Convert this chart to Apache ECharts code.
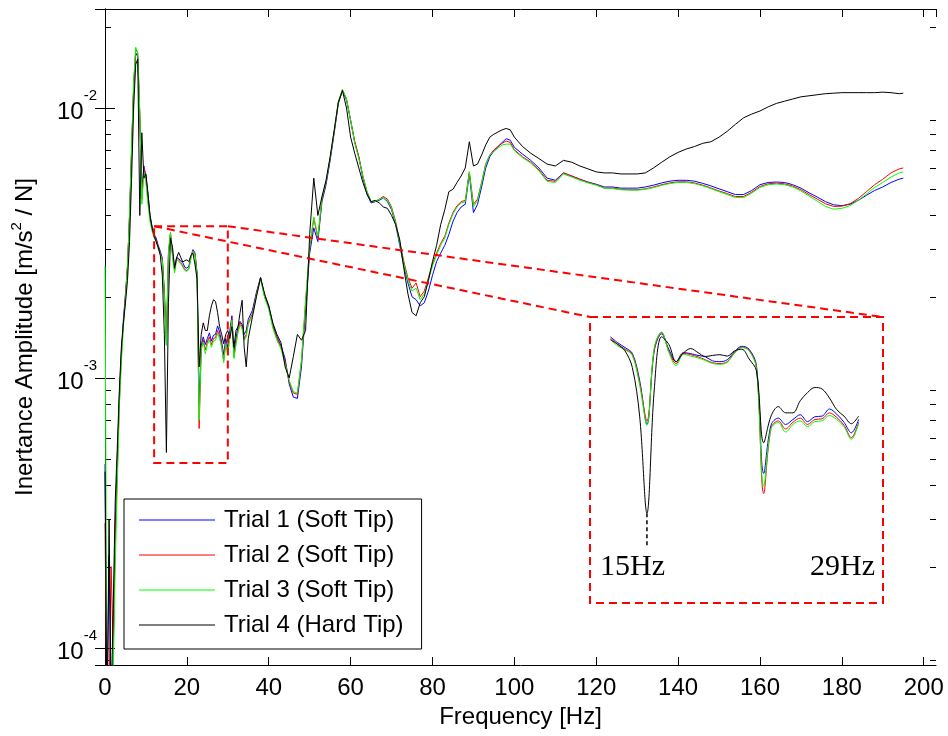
<!DOCTYPE html>
<html>
<head>
<meta charset="utf-8">
<script src="https://cdn.jsdelivr.net/npm/echarts@6/dist/echarts.min.js"></script>
<style>
html,body{margin:0;padding:0;background:#fff;}
#main{width:948px;height:736px;}
</style>
</head>
<body>
<div id="main"></div>
<script>
// ---------------- DATA (values in units of 1e-3 m/s^2/N) ----------------
const freq = [0,0.5,1,1.5,2,2.5,3,3.5,4,4.5,5,5.5,6,6.5,7,7.5,8,8.5,9,9.5,10,10.5,11,11.5,12,12.5,13,13.5,14,14.5,15,15.5,16,16.5,17,17.5,18,18.5,19,19.5,20,20.5,21,21.5,22,22.5,23,23.5,24,24.5,25,25.5,26,26.5,27,27.5,28,28.5,29,29.5,30,30.5,31,31.5,32,32.5,33,33.5,34,34.5,35,
36,37,38,39,40,41,42,43,44,45,46,47,48,49,50,51,52,53,54,55,56,57,58,59,60,61,62,63,64,65,66,67,68,69,70,71,72,73,74,75,76,77,78,79,80,81,82,83,84,85,86,87,88,89,90,91,92,93,94,95,96,97,98,99,100,
102,104,106,108,110,112,114,116,118,120,122,124,126,128,130,132,134,136,138,140,142,144,146,148,150,152,154,156,158,160,162,164,166,168,170,172,174,176,178,180,182,184,186,188,190,192,194,195];

const trial1 = [0.48,0.06,0.22,0.06,0.09,0.28,0.5,0.85,1.25,1.65,2.05,2.6,4.0,7.0,12.0,16.0,15.5,9.3,5.0,6.1,5.6,4.8,4.0,3.65,3.4,3.3,3.1,2.95,2.78,2.1,1.33,2.85,3.4,2.9,2.55,2.8,2.77,2.72,2.68,2.57,2.55,2.6,2.83,2.99,2.9,2.45,0.8,1.32,1.42,1.33,1.4,1.47,1.37,1.44,1.45,1.56,1.48,1.36,1.22,1.4,1.3,1.5,1.7,1.25,1.4,1.55,1.62,1.58,1.45,1.5,1.65,
1.78,2.08,2.36,2.02,1.85,1.58,1.42,1.32,1.18,0.95,0.85,0.84,1.1,1.8,2.9,3.6,3.2,4.5,5.2,6.4,8.1,10.4,11.6,10.7,9.0,7.5,6.6,5.5,4.8,4.45,4.5,4.55,4.65,4.5,4.2,3.7,3.1,2.6,2.25,2.0,1.95,1.85,1.9,2.1,2.4,2.7,2.9,3.1,3.4,3.8,4.1,4.3,4.4,5.7,4.1,4.4,5.1,6.0,6.6,6.95,7.2,7.45,7.7,7.6,7.15,
6.75,6.4,6.0,5.5,5.4,5.75,5.6,5.45,5.32,5.22,5.1,5.1,5.05,5.05,5.05,5.1,5.18,5.28,5.36,5.4,5.4,5.36,5.26,5.15,5.02,4.9,4.78,4.78,4.95,5.2,5.3,5.32,5.3,5.2,5.05,4.85,4.68,4.5,4.38,4.35,4.4,4.55,4.75,4.95,5.1,5.3,5.45,5.5];

const trial2 = [0.29,0.05,0.07,0.2,0.1,0.25,0.45,0.8,1.2,1.6,2.0,2.6,4.0,7.0,12.0,16.5,16.0,9.5,4.6,6.0,5.5,4.6,3.9,3.6,3.35,3.25,3.05,2.9,2.75,2.05,1.38,2.9,3.45,2.85,2.5,2.78,2.74,2.68,2.6,2.52,2.5,2.55,2.8,2.96,2.87,2.4,0.65,1.28,1.38,1.27,1.36,1.42,1.33,1.4,1.41,1.5,1.43,1.32,1.16,1.36,1.25,1.45,1.66,1.2,1.35,1.5,1.6,1.55,1.4,1.45,1.6,
1.73,2.05,2.35,2.0,1.83,1.55,1.4,1.3,1.15,0.97,0.88,0.87,1.15,1.9,3.0,3.9,3.3,4.6,5.3,6.5,8.2,10.5,11.7,10.8,9.0,7.5,6.6,5.6,4.9,4.5,4.5,4.6,4.7,4.6,4.3,3.8,3.2,2.7,2.35,2.15,2.25,2.0,2.1,2.35,2.65,2.9,3.15,3.35,3.75,4.1,4.35,4.5,4.55,5.8,4.4,4.6,5.3,6.2,6.7,7.0,7.2,7.4,7.55,7.45,7.0,
6.6,6.3,5.9,5.4,5.35,5.75,5.6,5.45,5.3,5.2,5.05,5.05,5.0,4.98,4.98,5.02,5.1,5.2,5.28,5.33,5.33,5.28,5.18,5.06,4.93,4.82,4.7,4.7,4.88,5.12,5.24,5.27,5.24,5.14,4.98,4.78,4.6,4.42,4.32,4.33,4.42,4.62,4.9,5.2,5.45,5.75,5.95,6.0];

const trial3 = [2.6,0.05,0.06,0.05,0.08,0.2,0.4,0.78,1.15,1.55,1.95,2.6,4.1,7.2,12.5,16.8,16.0,9.8,4.4,5.8,5.3,4.4,3.8,3.5,3.3,3.2,3.0,2.88,2.72,2.0,1.32,2.95,3.47,2.8,2.45,2.75,2.7,2.65,2.58,2.5,2.48,2.53,2.78,2.95,2.85,2.38,0.7,1.27,1.36,1.23,1.33,1.38,1.3,1.37,1.38,1.46,1.4,1.3,1.14,1.34,1.22,1.42,1.64,1.18,1.33,1.48,1.57,1.52,1.38,1.42,1.58,
1.7,2.02,2.33,1.98,1.8,1.53,1.38,1.28,1.13,0.98,0.89,0.88,1.17,1.95,3.05,3.95,3.35,4.65,5.35,6.55,8.25,10.6,11.7,10.8,9.0,7.4,6.5,5.6,4.9,4.5,4.5,4.6,4.65,4.55,4.25,3.75,3.15,2.65,2.3,2.1,2.15,1.95,2.05,2.3,2.6,2.85,3.1,3.3,3.7,4.05,4.3,4.45,4.5,5.8,4.3,4.55,5.3,6.2,6.7,6.9,7.1,7.3,7.35,7.35,6.95,
6.55,6.25,5.85,5.35,5.3,5.7,5.55,5.4,5.28,5.18,5.05,5.03,4.98,4.97,4.96,5.0,5.07,5.17,5.25,5.3,5.3,5.25,5.15,5.03,4.9,4.78,4.66,4.66,4.84,5.08,5.2,5.23,5.2,5.1,4.93,4.72,4.52,4.32,4.22,4.25,4.35,4.55,4.8,5.08,5.3,5.55,5.75,5.8];

const trial4 = [0.45,0.05,0.3,0.06,0.14,0.35,0.55,0.9,1.3,1.6,1.9,2.3,3.2,5.5,10.0,14.5,15.2,4.0,8.1,5.5,5.7,4.8,4.0,3.6,3.35,3.2,3.05,2.85,2.4,1.45,0.53,1.9,3.3,3.05,2.55,2.79,2.92,2.8,2.69,2.72,2.74,2.7,2.85,2.9,2.62,2.32,1.1,1.45,1.6,1.5,1.5,1.7,1.85,1.95,1.92,1.75,1.55,1.45,1.34,1.45,1.5,1.4,1.55,1.3,1.5,1.55,1.75,1.94,1.3,1.1,1.4,
1.68,2.0,2.35,2.05,1.85,1.6,1.45,1.35,1.1,1.0,1.2,1.45,1.38,1.5,3.4,5.5,4.0,4.7,5.4,6.6,8.3,10.5,11.6,10.0,7.8,6.8,6.0,5.3,4.8,4.5,4.55,4.45,4.3,4.25,4.0,3.7,3.25,2.55,2.05,1.75,1.7,1.9,2.0,2.3,2.7,3.1,3.7,4.2,4.9,5.0,5.3,5.6,6.0,7.5,6.1,6.2,6.7,7.3,7.8,8.0,8.15,8.3,8.4,8.3,7.8,
7.2,6.8,6.5,6.2,6.1,6.4,6.3,6.1,5.95,5.8,5.75,5.75,5.7,5.7,5.7,5.75,6.0,6.3,6.6,6.85,7.05,7.2,7.4,7.5,7.8,8.2,8.7,9.2,9.5,9.75,10.1,10.4,10.6,10.8,11.0,11.1,11.2,11.3,11.35,11.4,11.4,11.4,11.4,11.4,11.45,11.4,11.3,11.35];

const seriesNames = ['Trial 1 (Soft Tip)','Trial 2 (Soft Tip)','Trial 3 (Soft Tip)','Trial 4 (Hard Tip)'];
const seriesColors = ['#0000ff','#ff0000','#00ff00','#000000'];
const trials = [trial1, trial2, trial3, trial4];

const xTicks = [0,20,40,60,80,100,120,140,160,180,200];
const yDecades = [1e-4,1e-3,1e-2];
const minorTicks = [9e-5,2e-4,3e-4,4e-4,5e-4,6e-4,7e-4,8e-4,9e-4,2e-3,3e-3,4e-3,5e-3,6e-3,7e-3,8e-3,9e-3,2e-2];

// zoomed region (Hz and m/s^2/N) and inset range
const zoomBox = {f0: 12, f1: 30, yTop: 3.65e-3, yBottom: 4.84e-4};
const insetRange = {f0: 12.5, f1: 29.5};
const insetLabels = ['15Hz','29Hz'];
const markFreq = 15;

// ---------------- CHART ----------------
const FONT = '"Liberation Sans", Arial, sans-serif';
const FS = 24;
const xMin = 0, xMax = 203, yMin = 8.65e-5, yMax = 0.02327;
const inX0 = 11.1, inX1 = 31.17, inY0 = 2.09e-4, inY1 = 4.05e-3;

function toPairs(arr) { return freq.map((f, i) => [f, arr[i] * 1e-3]); }
function toInset(arr) { return freq.map((f, i) => [f, arr[i] * 1e-3]).filter(p => p[0] >= insetRange.f0 && p[0] <= insetRange.f1); }

const series = [];
trials.forEach((t, k) => {
  series.push({
    name: seriesNames[k], type: 'line', xAxisIndex: 0, yAxisIndex: 0,
    data: toPairs(t), symbol: 'none', showSymbol: false,
    lineStyle: {color: seriesColors[k], width: 1}, itemStyle: {color: seriesColors[k]},
    clip: true, z: 2 + k, silent: true
  });
});
trials.forEach((t, k) => {
  series.push({
    name: 'inset' + k, type: 'line', xAxisIndex: 2, yAxisIndex: 2,
    data: toInset(t), symbol: 'none', showSymbol: false, smooth: 0.35,
    lineStyle: {color: seriesColors[k], width: 1}, itemStyle: {color: seriesColors[k]},
    z: 2 + k, silent: true
  });
});
series.push({
  type: 'custom', name: 'minor', xAxisIndex: 0, yAxisIndex: 0, silent: true, clip: false,
  data: minorTicks.map(v => [xMin, v]),
  renderItem: function (params, api) {
    const cs = params.coordSys;
    const y = Math.round(api.coord([xMin, api.value(1)])[1]) + 0.5;
    return {type: 'group', children: [
      {type: 'line', shape: {x1: cs.x, y1: y, x2: cs.x + 6, y2: y}, style: {stroke: '#000', lineWidth: 1}},
      {type: 'line', shape: {x1: cs.x + cs.width, y1: y, x2: cs.x + cs.width - 6, y2: y}, style: {stroke: '#000', lineWidth: 1}}
    ]};
  }
});

const axisLineStyle = {show: true, lineStyle: {color: '#000', width: 1}};
const option = {
  animation: false,
  backgroundColor: '#fff',
  grid: [
    {left: 105, right: 12, top: 9, bottom: 71},
    {left: 590, top: 317, width: 293, height: 286}
  ],
  xAxis: [
    {type: 'value', gridIndex: 0, min: xMin, max: xMax, interval: 20, position: 'bottom',
     name: 'Frequency [Hz]', nameLocation: 'middle', nameGap: 40,
     nameTextStyle: {fontFamily: FONT, fontSize: FS, color: '#000'},
     axisLine: axisLineStyle, axisTick: {inside: true, length: 8, lineStyle: {color: '#000'}},
     axisLabel: {fontFamily: FONT, fontSize: FS, color: '#000', margin: 11, showMaxLabel: false,
       formatter: v => (xTicks.indexOf(v) >= 0 ? String(v) : '')},
     splitLine: {show: false}},
    {type: 'value', gridIndex: 0, min: xMin, max: xMax, interval: 20, position: 'top',
     axisLine: axisLineStyle, axisTick: {inside: true, length: 8, lineStyle: {color: '#000'}},
     axisLabel: {show: false}, splitLine: {show: false}},
    {type: 'value', gridIndex: 1, min: inX0, max: inX1, show: false}
  ],
  yAxis: [
    {type: 'log', logBase: 10, gridIndex: 0, min: yMin, max: yMax, position: 'left',
     name: 'Inertance Amplitude [m/s{s|2} / N]', nameLocation: 'middle', nameGap: 64, nameRotate: 90,
     nameTextStyle: {fontFamily: FONT, fontSize: FS, color: '#000', lineHeight: 32,
       rich: {s: {fontFamily: FONT, fontSize: 15, lineHeight: 15, verticalAlign: 'top', color: '#000'}}},
     axisLine: axisLineStyle, axisTick: {inside: true, length: 10, lineStyle: {color: '#000'}},
     axisLabel: {showMinLabel: false, showMaxLabel: false, margin: 8, padding: [0, 0, 4, 0],
       formatter: function (v) {
         const e = Math.round(Math.log10(v));
         if (Math.abs(Math.log10(v) - e) > 1e-6) return '';
         return '{b|10}{s|' + e + '}';
       },
       rich: {
         b: {fontFamily: FONT, fontSize: FS, color: '#000', lineHeight: 36, verticalAlign: 'bottom'},
         s: {fontFamily: FONT, fontSize: 15, color: '#000', lineHeight: 15, verticalAlign: 'top'}
       }},
     splitLine: {show: false}, minorTick: {show: false}},
    {type: 'log', logBase: 10, gridIndex: 0, min: yMin, max: yMax, position: 'right',
     axisLine: axisLineStyle, axisTick: {inside: true, length: 10, lineStyle: {color: '#000'}},
     axisLabel: {show: false}, splitLine: {show: false}},
    {type: 'log', logBase: 10, gridIndex: 1, min: inY0, max: inY1, show: false}
  ],
  legend: {
    data: seriesNames, orient: 'vertical', left: 124, top: 499,
    padding: [9, 18, 12, 15], itemGap: 11, itemWidth: 76, itemHeight: 1, icon: 'rect',
    backgroundColor: '#fff', borderColor: '#000', borderWidth: 1, borderRadius: 0,
    selectedMode: false, z: 20,
    textStyle: {fontFamily: FONT, fontSize: FS, color: '#000', padding: [0, 0, 0, 4]}
  },
  series: series
};

const chart = echarts.init(document.getElementById('main'), null, {renderer: 'canvas'});
chart.setOption(option);

// ----- zoom annotation (positions from the axes' own scales) -----
const main = {xAxisIndex: 0, yAxisIndex: 0};
const ins = {xAxisIndex: 2, yAxisIndex: 2};
const zTL = chart.convertToPixel(main, [zoomBox.f0, zoomBox.yTop]);
const zBR = chart.convertToPixel(main, [zoomBox.f1, zoomBox.yBottom]);
const iTL = chart.convertToPixel(ins, [inX0, inY1]);
const iBR = chart.convertToPixel(ins, [inX1, inY0]);
const dip = chart.convertToPixel(ins, [markFreq, trial4[freq.indexOf(markFreq)] * 1e-3]);
const dipEnd = chart.convertToPixel(ins, [markFreq, 3.69e-4]);
const red = {stroke: '#ff0000', lineWidth: 2, lineDash: [8, 5], fill: null};
function rectPts(a, b) { return [[a[0], a[1]], [b[0], a[1]], [b[0], b[1]], [a[0], b[1]], [a[0], a[1]]]; }
chart.setOption({
  graphic: [
    {type: 'polyline', z: 50, shape: {points: rectPts(zTL, zBR)}, style: red, silent: true},
    {type: 'polyline', z: 50, shape: {points: rectPts(iTL, iBR)}, style: red, silent: true},
    {type: 'line', z: 50, shape: {x1: zTL[0], y1: zTL[1], x2: iTL[0], y2: iTL[1]}, style: red, silent: true},
    {type: 'line', z: 50, shape: {x1: zBR[0], y1: zTL[1], x2: iBR[0], y2: iTL[1]}, style: red, silent: true},
    {type: 'line', z: 50, shape: {x1: dip[0], y1: dip[1], x2: dipEnd[0], y2: dipEnd[1]},
     style: {stroke: '#000', lineWidth: 1.5, lineDash: [4, 3]}, silent: true},
    {type: 'text', z: 50, x: iTL[0] + 10, y: dipEnd[1] + 19, silent: true,
     style: {text: insetLabels[0], font: '30px "Liberation Serif", "Times New Roman", serif', fill: '#000',
       textAlign: 'left', textVerticalAlign: 'middle'}},
    {type: 'text', z: 50, x: iBR[0] - 8, y: dipEnd[1] + 19, silent: true,
     style: {text: insetLabels[1], font: '30px "Liberation Serif", "Times New Roman", serif', fill: '#000',
       textAlign: 'right', textVerticalAlign: 'middle'}}
  ]
});
</script>
</body>
</html>
